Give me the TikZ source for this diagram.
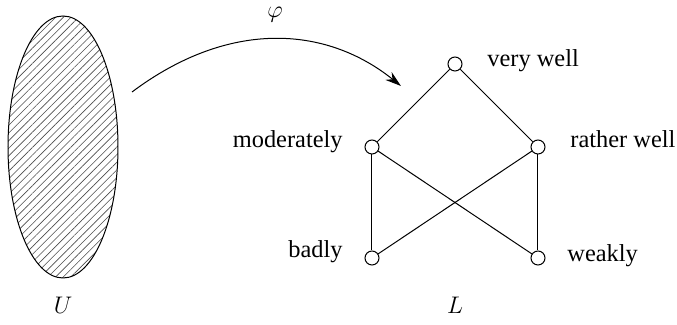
\documentclass[tikz,border=0pt]{standalone}
\usepackage{fontspec}
\setmainfont{Liberation Serif}
\usetikzlibrary{patterns.meta,arrows.meta,shapes.geometric}
\begin{document}
\begin{tikzpicture}[x=0.5pt,y=-0.5pt,
  vtx/.style={circle,draw,line width=0.5pt,fill=white,minimum size=7pt,inner sep=0pt},
  lbl/.style={inner sep=0pt,font=\fontsize{12.2}{14}\selectfont},
  edge/.style={line width=0.5pt},
  mlbl/.style={inner sep=0pt,font=\fontsize{12.2}{14}\selectfont}]
\useasboundingbox (0,0) rectangle (677,325);
% set U
\node[ellipse,draw,line width=0.5pt,minimum width=55pt,minimum height=131pt,inner sep=0pt,
  pattern={Lines[angle=45,distance=2.7pt,line width=0.3pt]},pattern color=black!70] (U) at (63,147) {};
\node[mlbl] (Ulbl) at (63,305) {$U$};
% lattice
\node[vtx] (vw) at (455,64) {};
\node[vtx] (mo) at (372,147) {};
\node[vtx] (rw) at (538,147) {};
\node[vtx] (ba) at (372,258) {};
\node[vtx] (wk) at (538,258) {};
\draw[edge] (vw) -- (mo);
\draw[edge] (vw) -- (rw);
\draw[edge] (mo) -- (ba);
\draw[edge] (rw) -- (wk);
\draw[edge] (mo) -- (wk);
\draw[edge] (rw) -- (ba);
\node[lbl,anchor=base west] (tvw) at (487,67) {very well};
\node[lbl,anchor=base east] (tmo) at (343,148) {moderately};
\node[lbl,anchor=base west] (trw) at (570,148) {rather well};
\node[lbl,anchor=base east] (tba) at (343,258) {badly};
\node[lbl,anchor=base west] (twk) at (567,262) {weakly};
\node[mlbl] (Llbl) at (455,305) {$L$};
% map
\coordinate (s) at (132,92);
\coordinate (e) at (401,86);
\draw[edge,-{Stealth[length=8pt,width=5pt]}] (s) .. controls (228,20) and (325,25) .. (e);
\node[mlbl] (phi) at (275,15) {$\varphi$};
\end{tikzpicture}
\end{document}
